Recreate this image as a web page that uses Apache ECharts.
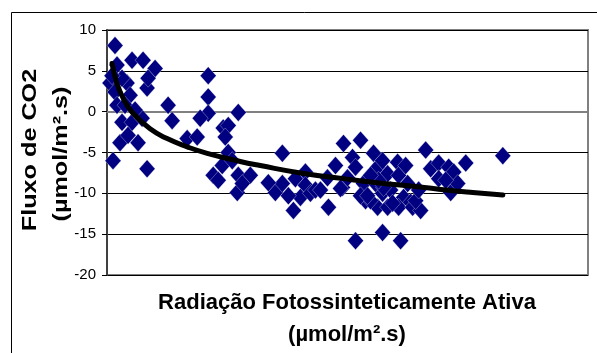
<!DOCTYPE html>
<html>
<head>
<meta charset="utf-8">
<script src="https://cdn.jsdelivr.net/npm/echarts@6/dist/echarts.min.js"></script>
<style>
  html, body { margin: 0; padding: 0; background: #fff; }
  #chart { width: 597px; height: 353px; }
</style>
</head>
<body>
<div id="chart"></div>
<script>
// PAR (x) e fluxo de CO2 (y)
const parValues = [
  40, 50, 15, 40, 50, 100, 75, 125, 180, 240, 200, 205, 115, 75, 125, 175, 65, 155, 105, 30,
  200, 25, 90, 140, 305, 325, 400, 450, 505, 505, 505, 465, 655, 580, 605, 590, 605, 530, 555, 575,
  625, 655, 715, 650, 675, 875, 840, 875, 940, 990, 990, 965, 930, 1015, 805, 905, 1040, 1100, 1105, 1140,
  1180, 1265, 1225, 1175, 1200, 1240, 1280, 1290, 1330, 1350, 1375, 1400, 1340, 1375, 1415, 1350, 1400, 1450, 1455, 1480,
  1455, 1240, 1375, 1465, 1500, 1315, 1065, 1165, 1265, 1380, 1425, 1515, 1300, 1355, 1315, 1490, 1525, 1565, 1590, 1615,
  1655, 1655, 1705, 1730, 1790, 1715, 1750, 1540, 1975, 1690, 1555
]
const fluxValues = [
  8.1, 5.7, 3.5, 2.4, 0.8, 3.5, 4.1, 6.3, 6.3, 5.3, 2.9, 4.1, 2.0, -1.3, -1.3, -0.8, -3.8, -3.8, -2.9, -6.0,
  -7.0, 4.4, 0.8, 0.2, 0.8, -1.1, -3.3, -3.1, 4.4, 1.8, -0.2, -0.8, -0.1, -2.0, -1.7, -3.1, -5.0, -7.8, -8.4, -6.6,
  -6.0, -7.8, -7.8, -9.9, -8.8, -5.1, -9.9, -8.8, -8.2, -7.4, -9.0, -10.5, -12.1, -10.0, -8.7, -10.3, -9.6, -8.1, -11.7, -6.6,
  -3.9, -3.5, -5.6, -9.3, -8.1, -6.8, -8.8, -10.9, -5.1, -6.8, -6.0, -7.6, -8.8, -10.0, -9.6, -11.7, -11.7, -6.2, -7.8, -10.5,
  -11.7, -15.8, -14.8, -15.8, -8.8, -10.9, -9.6, -9.4, -10.3, -9.3, -11.2, -11.1, -10.3, -8.4, -7.8, -6.6, -11.7, -12.1, -4.7, -7.0,
  -6.3, -8.2, -6.8, -7.4, -6.3, -9.9, -8.8, -10.9, -5.4, -8.4, -9.6
]

// linha de tendência
const trendX = [25, 50, 90, 130, 215, 300, 400, 500, 665, 765, 965, 1180, 1350, 1515, 1655, 1825, 1975]
const trendY = [5.9, 3.4, 1.2, -0.2, -2.1, -3.3, -4.3, -5.1, -6.1, -6.6, -7.5, -8.2, -8.7, -9.1, -9.5, -9.9, -10.2]

const yTicks = { min: -20, max: 10, interval: 5 }

const points = parValues.map((x, i) => [x, fluxValues[i]])
const trend = trendX.map((x, i) => [x, trendY[i]])

const chart = echarts.init(document.getElementById('chart'))
chart.setOption({
  animation: false,
  backgroundColor: '#fff',
  grid: {
    left: 107,
    right: 9,
    top: 30,
    bottom: 78,
    show: true,
    borderColor: '#808080',
    borderWidth: 2,
  },
  xAxis: {
    type: 'value',
    min: 0,
    max: 2400,
    axisLine: { show: true, lineStyle: { color: '#808080', width: 2 } },
    axisTick: { show: false },
    axisLabel: { show: false },
    splitLine: { show: false },
  },
  yAxis: {
    type: 'value',
    min: yTicks.min,
    max: yTicks.max,
    interval: yTicks.interval,
    axisLine: { show: true, onZero: false, lineStyle: { color: '#404040', width: 2 } },
    axisTick: { show: true, inside: false, length: 5, lineStyle: { color: '#000', width: 1 } },
    axisLabel: { fontFamily: 'Liberation Sans, Arial', fontSize: 15, color: '#000', margin: 11 },
    splitLine: { show: true, lineStyle: { color: '#000', width: 1 } },
  },
  graphic: [
    {
      type: 'rect',
      shape: { x: 11.5, y: 12.5, width: 700, height: 400 },
      style: { fill: 'none', stroke: '#000', lineWidth: 1 },
      silent: true,
    },
    {
      type: 'text',
      x: 30,
      y: 150,
      rotation: Math.PI / 2,
      scaleX: 1.2,
      style: {
        text: 'Fluxo de CO2',
        font: 'bold 21px "Liberation Sans", Arial',
        fill: '#000',
        align: 'center',
        verticalAlign: 'middle',
      },
    },
    {
      type: 'text',
      x: 61,
      y: 154,
      rotation: Math.PI / 2,
      scaleX: 1.2,
      style: {
        text: '(µmol/m².s)',
        font: 'bold 21px "Liberation Sans", Arial',
        fill: '#000',
        align: 'center',
        verticalAlign: 'middle',
      },
    },
    {
      type: 'text',
      x: 347,
      y: 303,
      style: {
        text: 'Radiação Fotossinteticamente Ativa',
        font: 'bold 22px "Liberation Sans", Arial',
        fill: '#000',
        align: 'center',
        verticalAlign: 'middle',
      },
    },
    {
      type: 'text',
      x: 347,
      y: 335,
      style: {
        text: '(µmol/m².s)',
        font: 'bold 22px "Liberation Sans", Arial',
        fill: '#000',
        align: 'center',
        verticalAlign: 'middle',
      },
    },
  ],
  series: [
    {
      type: 'scatter',
      data: points,
      symbol: 'diamond',
      symbolSize: [16, 18],
      itemStyle: { color: '#000080', borderColor: 'rgba(255,255,255,0.6)', borderWidth: 0.5, opacity: 1 },
      z: 2,
    },
    {
      type: 'line',
      data: trend,
      smooth: 0.5,
      showSymbol: false,
      symbol: 'none',
      lineStyle: { color: '#000', width: 5, cap: 'round', join: 'round' },
      z: 3,
    },
  ],
})
</script>
</body>
</html>
